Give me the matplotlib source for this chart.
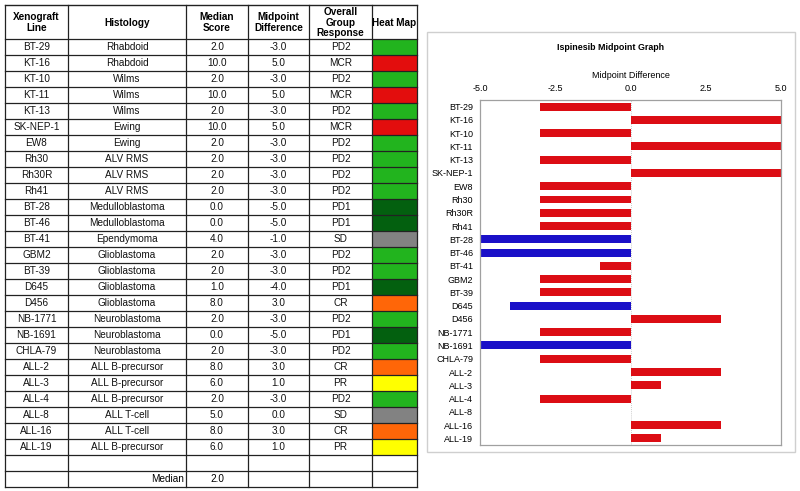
import matplotlib.pyplot as plt
from matplotlib.patches import Rectangle
import numpy as np

plt.rcParams['font.family'] = ['Liberation Sans', 'DejaVu Sans']

# data
lines = ['BT-29', 'KT-16', 'KT-10', 'KT-11', 'KT-13', 'SK-NEP-1', 'EW8', 'Rh30',
         'Rh30R', 'Rh41', 'BT-28', 'BT-46', 'BT-41', 'GBM2', 'BT-39', 'D645',
         'D456', 'NB-1771', 'NB-1691', 'CHLA-79', 'ALL-2', 'ALL-3', 'ALL-4',
         'ALL-8', 'ALL-16', 'ALL-19']
histology = ['Rhabdoid', 'Rhabdoid', 'Wilms', 'Wilms', 'Wilms', 'Ewing', 'Ewing',
             'ALV RMS', 'ALV RMS', 'ALV RMS', 'Medulloblastoma', 'Medulloblastoma',
             'Ependymoma', 'Glioblastoma', 'Glioblastoma', 'Glioblastoma',
             'Glioblastoma', 'Neuroblastoma', 'Neuroblastoma', 'Neuroblastoma',
             'ALL B-precursor', 'ALL B-precursor', 'ALL B-precursor', 'ALL T-cell',
             'ALL T-cell', 'ALL B-precursor']
median_score = [2, 10, 2, 10, 2, 10, 2, 2, 2, 2, 0, 0, 4, 2, 2, 1, 8, 2, 0, 2,
                8, 6, 2, 5, 8, 6]
midpoint = [-3, 5, -3, 5, -3, 5, -3, -3, -3, -3, -5, -5, -1, -3, -3, -4, 3, -3,
            -5, -3, 3, 1, -3, 0, 3, 1]
response = ['PD2', 'MCR', 'PD2', 'MCR', 'PD2', 'MCR', 'PD2', 'PD2', 'PD2', 'PD2',
            'PD1', 'PD1', 'SD', 'PD2', 'PD2', 'PD1', 'CR', 'PD2', 'PD1', 'PD2',
            'CR', 'PR', 'PD2', 'SD', 'CR', 'PR']
overall_median = 2.0

heat_colors = {'PD2': '#22b41e', 'PD1': '#03600f', 'MCR': '#e30d0d',
               'CR': '#ff6608', 'PR': '#ffff00', 'SD': '#828282'}

headers = ['Xenograft\nLine', 'Histology', 'Median\nScore', 'Midpoint\nDifference',
           'Overall\nGroup\nResponse', 'Heat Map']

fig = plt.figure(figsize=(8, 4.91), dpi=100)

# pixel-space canvas for the table and the chart box
canvas = fig.add_axes([0, 0, 1, 1])
canvas.set_xlim(0, 800)
canvas.set_ylim(491, 0)
canvas.axis('off')

col_edges = [5, 68, 186, 248, 309, 372, 417]
top, head_h, row_h = 5, 34, 16
n_rows = len(lines) + 2
bottom = top + head_h + n_rows * row_h
fs = 7.2

for i, h in enumerate(headers):
    cx = (col_edges[i] + col_edges[i + 1]) / 2
    canvas.text(cx, top + head_h / 2 + 0.5, h, ha='center', va='center',
                fontsize=fs, fontweight='bold', linespacing=1.12)

for r in range(len(lines)):
    cy = top + head_h + (r + 0.5) * row_h
    cells = [lines[r], histology[r], f'{median_score[r]:.1f}',
             f'{midpoint[r]:.1f}', response[r]]
    for i, c in enumerate(cells):
        cx = (col_edges[i] + col_edges[i + 1]) / 2
        canvas.text(cx, cy, c, ha='center', va='center', fontsize=fs, color='#111111')
    y0 = top + head_h + r * row_h
    canvas.add_patch(Rectangle((col_edges[5], y0), col_edges[6] - col_edges[5], row_h,
                               facecolor=heat_colors[response[r]], edgecolor='none'))

# median row
cy = top + head_h + (len(lines) + 1.5) * row_h
canvas.text(col_edges[2] - 2, cy, 'Median', ha='right', va='center', fontsize=fs)
canvas.text((col_edges[2] + col_edges[3]) / 2, cy, f'{overall_median:.1f}',
            ha='center', va='center', fontsize=fs)

# grid lines
for x in col_edges:
    canvas.plot([x, x], [top, bottom], color='#222222', lw=0.9)
for k in range(n_rows + 1):
    y = top + head_h + k * row_h
    canvas.plot([col_edges[0], col_edges[-1]], [y, y], color='#222222', lw=0.9)
canvas.plot([col_edges[0], col_edges[-1]], [top, top], color='#222222', lw=1.0)

# chart box
canvas.add_patch(Rectangle((427, 32), 368, 420, facecolor='white',
                           edgecolor='#cfcfcf', lw=1.0))
canvas.text(611, 47, 'Ispinesib Midpoint Graph', ha='center', va='center',
            fontsize=6.4, fontweight='bold')

# bar chart
ax = fig.add_axes([480 / 800, (491 - 445) / 491, 301 / 800, 345 / 491])
ypos = np.arange(len(lines))
bar_colors = ['#1a10c8' if response[i] == 'PD1' else '#dc0d14' for i in range(len(lines))]
ax.barh(ypos, midpoint, height=0.6, color=bar_colors)
ax.set_xlim(-5, 5)
ax.set_ylim(len(lines) - 0.5, -0.5)
ax.axvline(0, color='#bbbbbb', lw=0.6, ls=(0, (1, 1.5)), zorder=0)
ax.xaxis.tick_top()
ax.xaxis.set_label_position('top')
ax.set_xticks([-5, -2.5, 0, 2.5, 5])
ax.set_xticklabels([f'{v:.1f}' for v in [-5, -2.5, 0, 2.5, 5]])
ax.set_xlabel('Midpoint Difference', fontsize=6.5, labelpad=4)
ax.set_yticks(ypos)
ax.set_yticklabels(lines)
ax.tick_params(axis='x', length=0, pad=5, labelsize=6.5)
ax.tick_params(axis='y', length=0, pad=5, labelsize=6.5)
for s in ax.spines.values():
    s.set_color('#a0a0a0')
    s.set_linewidth(0.9)

fig.savefig('out.png', dpi=100)
